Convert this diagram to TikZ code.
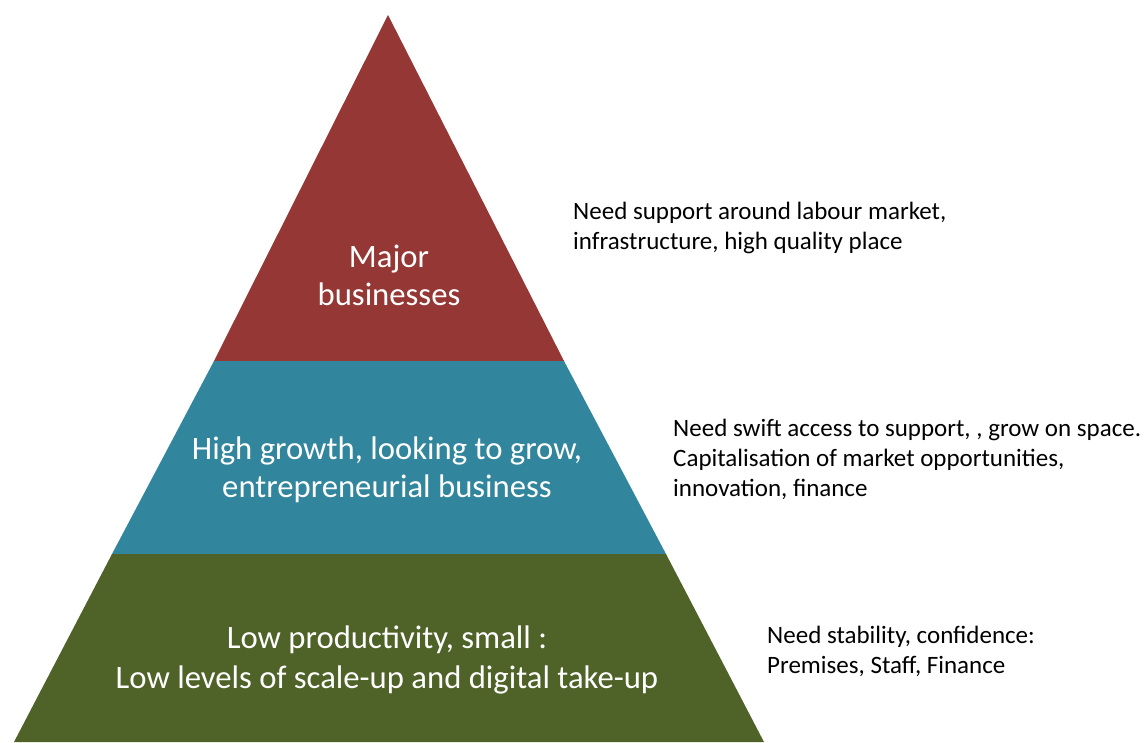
\documentclass[tikz,border=0pt]{standalone}
\usepackage{fontspec}
\setmainfont{Carlito}
\definecolor{topred}{HTML}{953735}
\definecolor{midblue}{HTML}{31859C}
\definecolor{lowgreen}{HTML}{4F6228}
\begin{document}
\begin{tikzpicture}[x=1pt,y=-1pt,
  layertext/.style={text=white,align=center,font=\fontsize{32.7}{38}\selectfont,inner sep=0pt},
  notetext/.style={text=black,align=left,anchor=west,font=\fontsize{25}{30}\selectfont,inner sep=0pt}]
\useasboundingbox (0,0) rectangle (1145,742);
% layers
\coordinate (apex) at (388,15);
\coordinate (l1) at (214,361); \coordinate (r1) at (564,361);
\coordinate (l2) at (112,554); \coordinate (r2) at (666,554);
\coordinate (l3) at (14,742);  \coordinate (r3) at (764,742);
\fill[topred] (apex) -- (r1) -- (l1) -- cycle;
\fill[midblue] (l1) -- (r1) -- (r2) -- (l2) -- cycle;
\fill[lowgreen] (l2) -- (r2) -- (r3) -- (l3) -- cycle;
% layer labels
\node[layertext] (major) at (389,275) {Major\\businesses};
\node[layertext] (growth) at (387,470) {High growth, looking to grow,\\entrepreneurial business};
\node[layertext, font=\fontsize{32.7}{40}\selectfont] (low) at (387,660) {Low productivity, small :\\Low levels of scale-up and digital take-up};
% notes
\node[notetext] (n1) at (573,228) {Need support around labour market,\\infrastructure, high quality place};
\node[notetext] (n2) at (673,459) {Need swift access to support, , grow on space.\\Capitalisation of market opportunities,\\innovation, finance};
\node[notetext] (n3) at (767,651) {Need stability, confidence:\\Premises, Staff, Finance};
\end{tikzpicture}
\end{document}
